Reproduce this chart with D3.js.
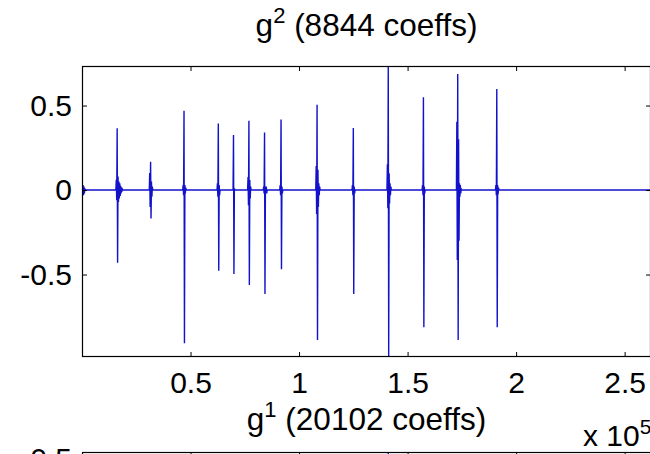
<!DOCTYPE html>
<html>
<head>
<meta charset="utf-8">
<script src="https://cdn.jsdelivr.net/npm/d3@7"></script>
<style>
  body { margin: 0; background: #fff; }
  svg { display: block; }
</style>
</head>
<body>
<div id="chart"></div>
<script>
const width = 650;
const height = 454;

// signal length and spacing of the samples inside one burst
const sampleCount = 262144;
const sampleStep = 200;

// g2: start index of each burst of coefficients, and the burst values
const g2Starts = [300, 15600, 31000, 46400, 62200, 69600, 76300, 83500, 91100, 107700, 124400, 140500, 156700, 172500, 190500];
const g2Bursts = [
  [0, 0.03, -0.03, 0.02, -0.02, 0.01, 0],
  [0, 0.06, -0.06, 0.365, -0.43, 0.08, -0.07, 0.05, -0.05, 0.04, -0.035, 0.025, -0.02, 0.015, -0.01, 0.005, 0],
  [0, 0.1, -0.1, 0.168, -0.168, 0.05, -0.04, 0.02, 0],
  [0, 0.03, -0.03, 0.469, -0.907, 0.03, -0.02, 0.015, 0],
  [0, 0.04, -0.04, 0.394, -0.477, 0.03, -0.03, 0],
  [0, 0.325, -0.497, 0.01, 0],
  [0, 0.077, -0.09, 0.41, -0.562, 0.06, -0.05, 0.02, 0],
  [0, 0.02, -0.02, 0.341, -0.615, 0.02, -0.02, 0.02, -0.02, 0],
  [0, 0.03, -0.03, 0.418, -0.469, 0.02, -0.02, 0],
  [0, 0.142, -0.142, 0.505, -0.888, 0.12, -0.1, 0.04, -0.03, 0.02, 0],
  [0, 0.03, -0.03, 0.367, -0.615, 0.02, -0.02, 0],
  [0, 0.152, -0.108, 0.734, -0.988, 0.1, -0.08, 0.04, -0.03, 0.02, 0],
  [0, 0.03, -0.03, 0.549, -0.812, 0.02, -0.02, 0],
  [0, 0.404, -0.414, 0.686, -0.888, 0.3, -0.3, 0.04, -0.04, 0.03, -0.02, 0.01, 0],
  [0, 0.03, -0.03, 0.598, -0.812, 0.03, -0.025, 0.015, 0]
];

// g1: only the top of this panel is visible
const g1Starts = [140500];
const g1Bursts = [
  [0, 0.12, -0.1, 0.537, -0.95, 0.08, -0.06, 0]
];

const xTicks = [50000, 100000, 150000, 200000, 250000];
const xTickLabels = ["0.5", "1", "1.5", "2", "2.5"];
const yTicks = [-0.5, 0, 0.5];
const yTickLabels = ["-0.5", "0", "0.5"];

const font = "'Liberation Sans', Arial, sans-serif";
const blue = "#1212cc";

function toPoints(starts, bursts) {
  const pts = [[1, 0]];
  starts.forEach((s, i) => {
    bursts[i].forEach((v, j) => pts.push([s + j * sampleStep, v]));
  });
  pts.push([sampleCount, 0]);
  return pts;
}

const svg = d3.select("#chart")
  .append("svg")
  .attr("width", width)
  .attr("height", height);

function panel(id, box, points, titleMain, titleSup, titleRest, titleY, showXLabels) {
  const xScale = d3.scaleLinear()
    .domain([1, sampleCount])
    .range([box.left, box.right]);

  const yScale = d3.scaleLinear()
    .domain(d3.extent(points, d => d[1]))
    .range([box.bottom, box.top]);

  svg.append("clipPath")
    .attr("id", "clip-" + id)
    .append("rect")
    .attr("x", box.left)
    .attr("y", box.top)
    .attr("width", box.right - box.left)
    .attr("height", box.bottom - box.top);

  const line = d3.line()
    .x(d => xScale(d[0]))
    .y(d => yScale(d[1]));

  svg.append("path")
    .datum(points)
    .attr("clip-path", `url(#clip-${id})`)
    .attr("fill", "none")
    .attr("stroke", blue)
    .attr("stroke-width", 1.4)
    .attr("d", line);

  const styleAxis = g => {
    g.select(".domain").remove();
    g.selectAll("line").attr("stroke", "#000");
    g.selectAll("text")
      .attr("fill", "#000")
      .attr("font-family", font)
      .attr("font-size", 30);
  };

  svg.append("g")
    .attr("transform", `translate(0, ${box.bottom})`)
    .call(d3.axisBottom(xScale)
      .tickValues(xTicks)
      .tickFormat((d, i) => showXLabels ? xTickLabels[i] : "")
      .tickSize(-5)
      .tickPadding(15))
    .call(styleAxis);

  svg.append("g")
    .attr("transform", `translate(0, ${box.top})`)
    .call(d3.axisTop(xScale).tickValues(xTicks).tickFormat("").tickSize(-5))
    .call(styleAxis);

  svg.append("g")
    .attr("transform", `translate(${box.left}, 0)`)
    .call(d3.axisLeft(yScale)
      .tickValues(yTicks)
      .tickFormat((d, i) => yTickLabels[i])
      .tickSize(-5)
      .tickPadding(10))
    .call(styleAxis);

  svg.append("g")
    .attr("transform", `translate(${box.right}, 0)`)
    .call(d3.axisRight(yScale).tickValues(yTicks).tickFormat("").tickSize(-5))
    .call(styleAxis);

  svg.append("rect")
    .attr("x", box.left + 0.5)
    .attr("y", box.top + 0.5)
    .attr("width", box.right - box.left - 1)
    .attr("height", box.bottom - box.top - 1)
    .attr("fill", "none")
    .attr("stroke", "#000")
    .attr("stroke-width", 1.2);

  const title = svg.append("text")
    .attr("x", (box.left + box.right) / 2)
    .attr("y", titleY)
    .attr("text-anchor", "middle")
    .attr("font-family", font)
    .attr("font-size", 31.5)
    .attr("fill", "#000");
  title.append("tspan").text(titleMain);
  title.append("tspan").attr("font-size", 22).attr("dy", -13).text(titleSup);
  title.append("tspan").attr("dy", 13).text(titleRest);
}

panel("g2", { left: 82, right: 651, top: 66, bottom: 357 },
  toPoints(g2Starts, g2Bursts), "g", "2", " (8844 coeffs)", 36, true);

panel("g1", { left: 82, right: 651, top: 452, bottom: 743 },
  toPoints(g1Starts, g1Bursts), "g", "1", " (20102 coeffs)", 430, false);

// exponent label of the x axis
const expo = svg.append("text")
  .attr("x", 583)
  .attr("y", 446)
  .attr("font-family", font)
  .attr("font-size", 30)
  .attr("fill", "#000");
expo.append("tspan").text("x 10");
expo.append("tspan").attr("font-size", 21).attr("dy", -12).text("5");
</script>
</body>
</html>
